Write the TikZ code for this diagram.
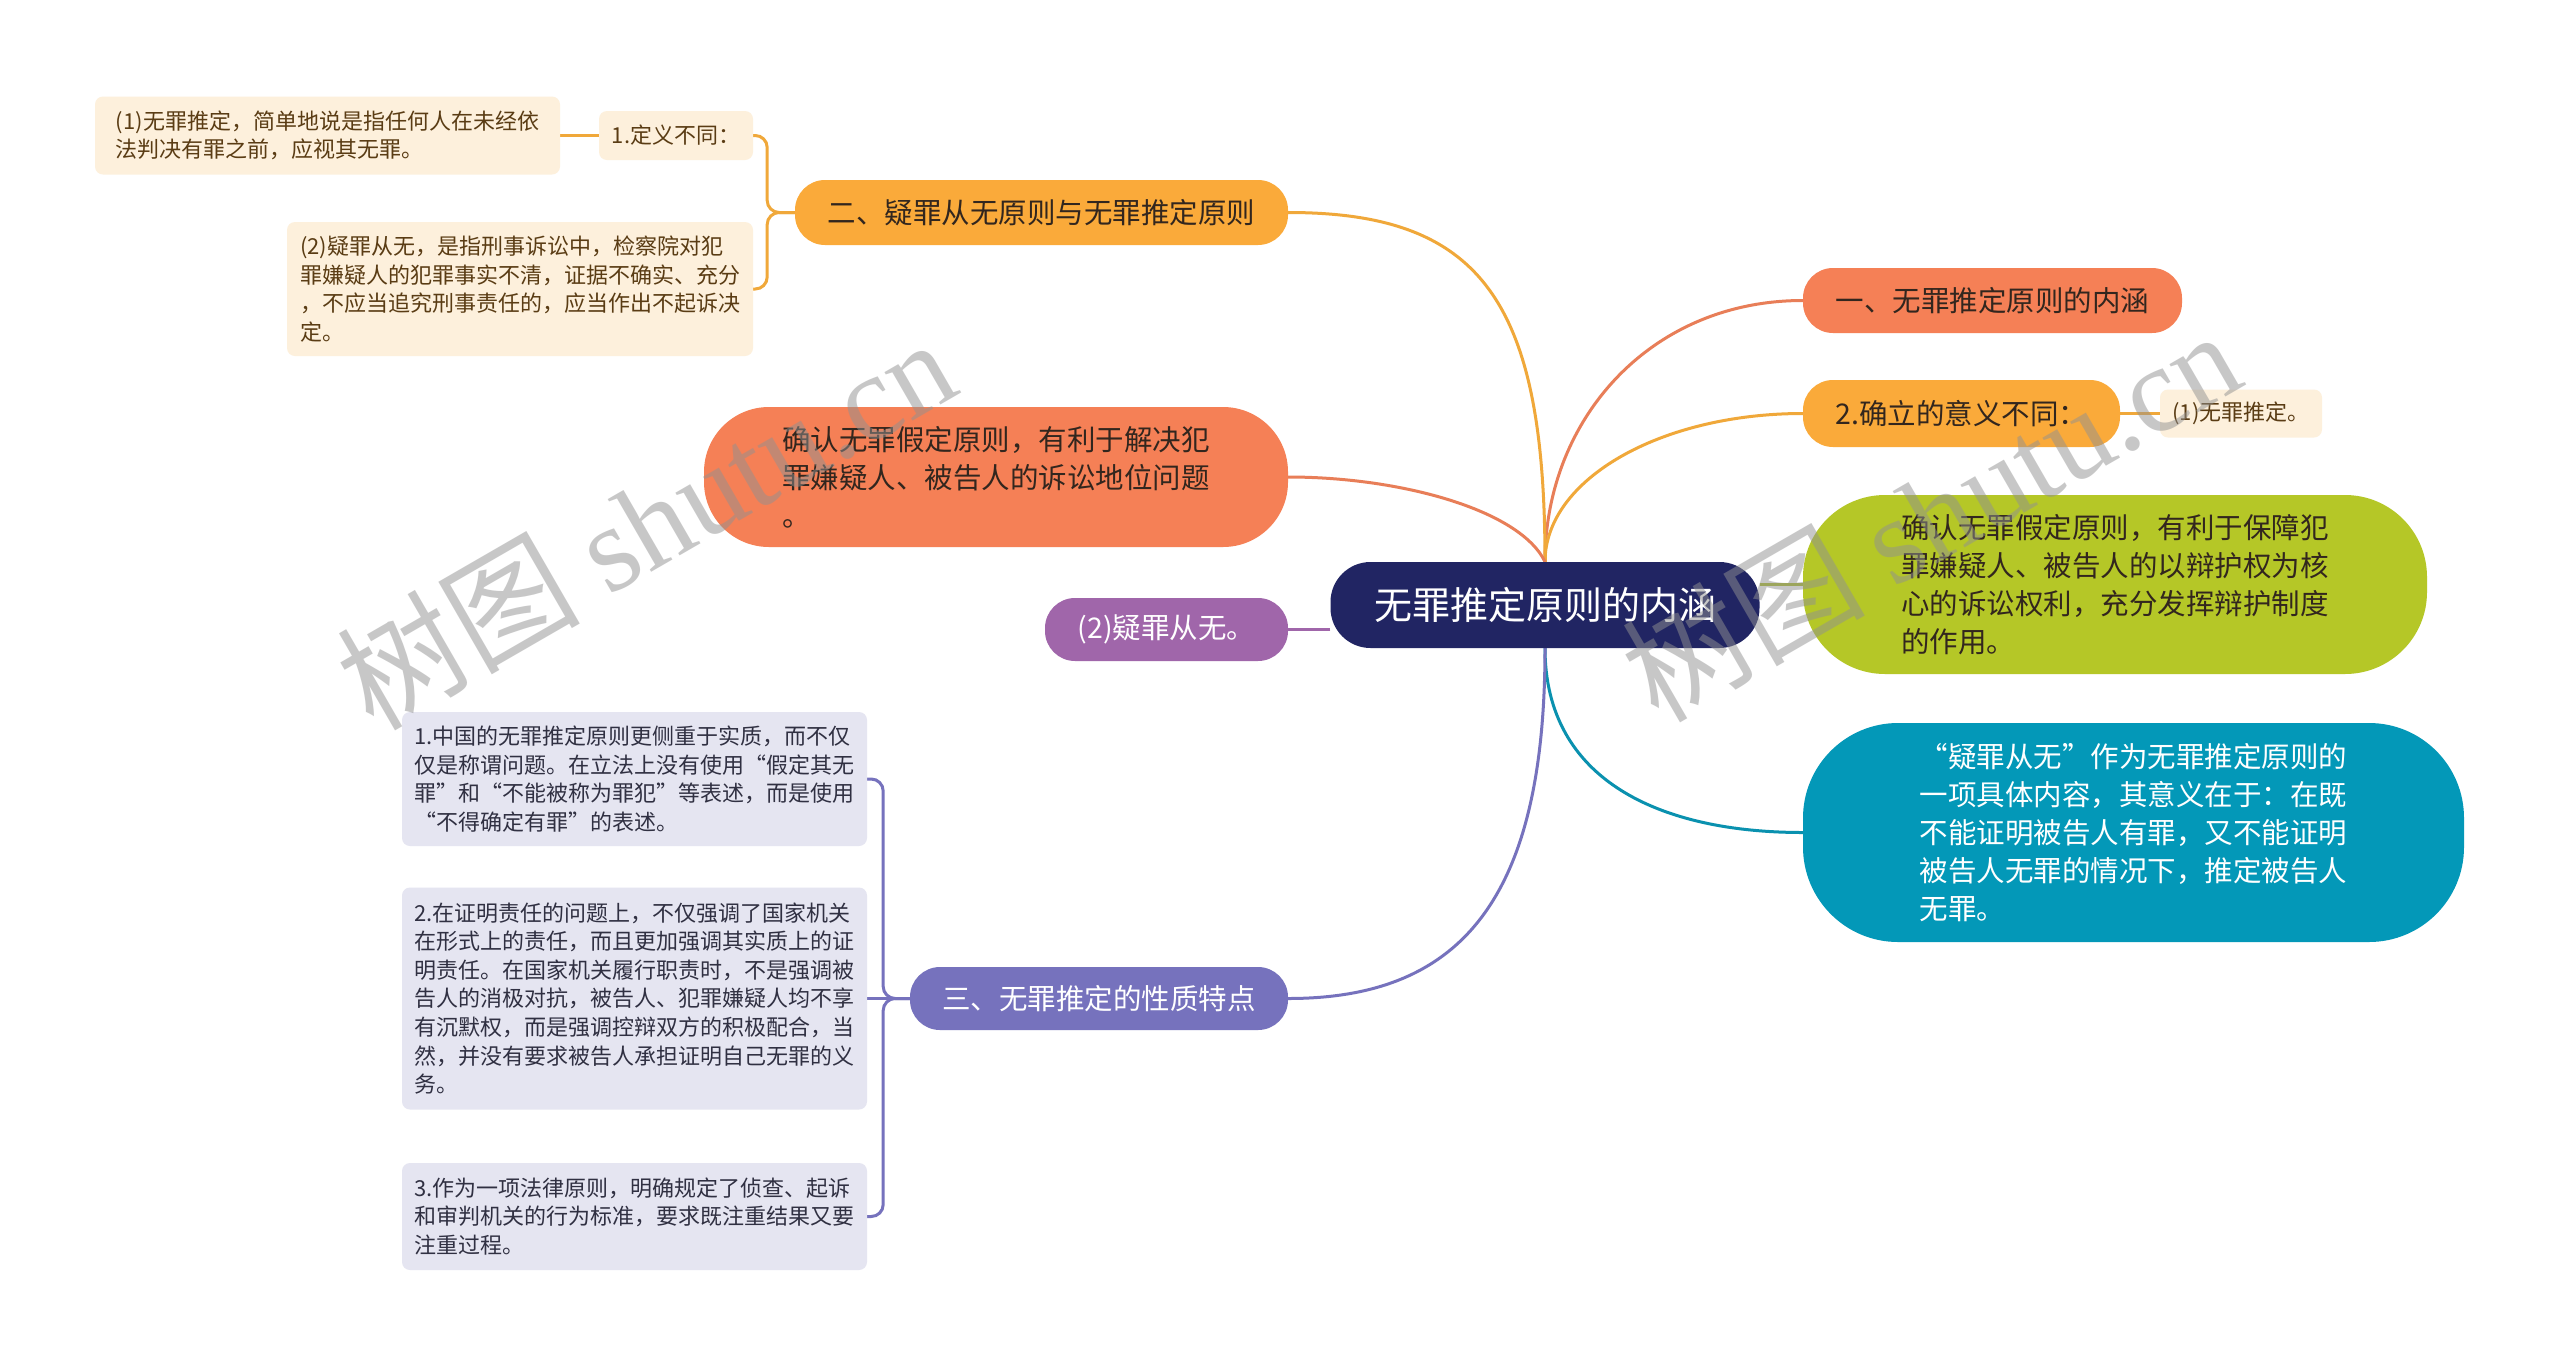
\documentclass[tikz,border=0pt]{standalone}
\usepackage{fontspec}
\setmainfont{Noto Sans CJK SC}
\newfontfamily\wmfont{Liberation Serif}
\usetikzlibrary{calc,backgrounds}

\definecolor{navy}{RGB}{33,37,99}
\definecolor{coral}{RGB}{245,128,86}
\definecolor{amber}{RGB}{250,170,58}
\definecolor{lime}{RGB}{181,199,39}
\definecolor{lagoon}{RGB}{3,152,184}
\definecolor{plum}{RGB}{160,102,170}
\definecolor{iris}{RGB}{118,114,189}
\definecolor{cream}{RGB}{253,240,220}
\definecolor{mist}{RGB}{229,229,241}
\definecolor{inkdark}{RGB}{50,38,30}
\definecolor{inkbrown}{RGB}{90,60,20}
\definecolor{inkgray}{RGB}{48,48,66}
\definecolor{coralline}{RGB}{232,126,88}
\definecolor{amberline}{RGB}{240,168,58}
\definecolor{limeline}{RGB}{168,186,40}
\definecolor{lagoonline}{RGB}{10,145,175}
\definecolor{wmgray}{RGB}{145,145,145}

\tikzset{
  topic/.style={rounded corners=40pt, fill=navy, text=white, minimum width=429pt,
    minimum height=86pt, inner sep=0pt, font=\fontsize{38}{46}\selectfont},
  branch/.style={rounded corners=30pt, inner sep=0pt, text=inkdark,
    font=\fontsize{28.5}{38}\selectfont},
  bubble/.style={inner sep=0pt, align=left, text=inkdark,
    font=\fontsize{28.5}{38}\selectfont},
  memo/.style={rounded corners=8pt, inner sep=0pt, align=left, fill=cream,
    text=inkbrown, font=\fontsize{22}{28.6}\selectfont},
  fact/.style={memo, fill=mist, text=inkgray},
  link/.style={line width=3pt},
  watermark/.style={rotate=30, text=wmgray, text opacity=0.5,
    font=\fontsize{122}{130}\selectfont}
}

\begin{document}
\begin{tikzpicture}[x=1pt, y=-1pt, line cap=round, line join=round]
  % white page
  \begin{pgfonlayer}{background}
    \fill[white] (0,0) rectangle (2560,1366);
  \end{pgfonlayer}

  % central topic
  \node[topic] (root) at (1545,605) {无罪推定原则的内涵};

  % right side
  \node[branch, fill=coral, minimum width=379pt, minimum height=65pt] (meaning) at (1992.5,300.5) {一、无罪推定原则的内涵};
  \node[branch, fill=amber, minimum width=317pt, minimum height=67pt] (purpose) at (1961.5,413.5) {2.确立的意义不同：};
  \node[memo, minimum width=162pt, minimum height=48pt] (purposeA) at (2241,413.5) {(1)无罪推定。};
  \node[bubble, fill=lime, rounded corners=82pt, minimum width=624pt, minimum height=179pt] (defence) at (2115,584.5) {确认无罪假定原则，有利于保障犯\\罪嫌疑人、被告人的以辩护权为核\\心的诉讼权利，充分发挥辩护制度\\的作用。};
  \node[bubble, fill=lagoon, text=white, rounded corners=95pt, minimum width=661pt, minimum height=219pt] (presume) at (2133.5,832.5) {“疑罪从无”作为无罪推定原则的\\一项具体内容，其意义在于：在既\\不能证明被告人有罪，又不能证明\\被告人无罪的情况下，推定被告人\\无罪。};

  % left side
  \node[branch, fill=amber, minimum width=493pt, minimum height=65pt] (principle) at (1041.5,212.5) {二、疑罪从无原则与无罪推定原则};
  \node[memo, minimum width=154pt, minimum height=49pt] (define) at (676,135.5) {1.定义不同：};
  \node[memo, minimum width=465pt, minimum height=78pt] (defineA) at (327.5,135.5) {(1)无罪推定，简单地说是指任何人在未经依\\法判决有罪之前，应视其无罪。};
  \node[memo, minimum width=466pt, minimum height=134pt] (defineB) at (520,289) {(2)疑罪从无，是指刑事诉讼中，检察院对犯\\罪嫌疑人的犯罪事实不清，证据不确实、充分\\，不应当追究刑事责任的，应当作出不起诉决\\定。};
  \node[bubble, fill=coral, rounded corners=65pt, minimum width=584pt, minimum height=140pt] (status) at (996,477) {确认无罪假定原则，有利于解决犯\\罪嫌疑人、被告人的诉讼地位问题\\。};
  \node[branch, fill=plum, text=white, minimum width=243pt, minimum height=63pt] (doubt) at (1166.5,629.5) {(2)疑罪从无。};
  \node[branch, fill=iris, text=white, minimum width=378pt, minimum height=63pt] (traits) at (1099,998.5) {三、无罪推定的性质特点};
  \node[fact, minimum width=465pt, minimum height=134pt] (factA) at (634.5,779) {1.中国的无罪推定原则更侧重于实质，而不仅\\仅是称谓问题。在立法上没有使用“假定其无\\罪”和“不能被称为罪犯”等表述，而是使用\\“不得确定有罪”的表述。};
  \node[fact, minimum width=465pt, minimum height=222pt] (factB) at (634.5,998.5) {2.在证明责任的问题上，不仅强调了国家机关\\在形式上的责任，而且更加强调其实质上的证\\明责任。在国家机关履行职责时，不是强调被\\告人的消极对抗，被告人、犯罪嫌疑人均不享\\有沉默权，而是强调控辩双方的积极配合，当\\然，并没有要求被告人承担证明自己无罪的义\\务。};
  \node[fact, minimum width=465pt, minimum height=107pt] (factC) at (634.5,1216.5) {3.作为一项法律原则，明确规定了侦查、起诉\\和审判机关的行为标准，要求既注重结果又要\\注重过程。};

  % connectors, behind the nodes
  \begin{pgfonlayer}{background}
    \draw[link, coralline] (root.north) .. controls +(0,-142) and +(-153,0) .. (meaning.west);
    \draw[link, amberline] (root.north) .. controls +(0,-82) and +(-143,0) .. (purpose.west);
    \draw[link, amberline] (root.north) .. controls +(0,-262) and +(192,0) .. (principle.east);
    \draw[link, coralline] (root.north) .. controls +(-25,-52) and +(112,0) .. (status.east);
    \draw[link, lagoonline] (root.south) .. controls +(0,132) and +(-143,0) .. (presume.west);
    \draw[link, iris] (root.south) .. controls +(0,252) and +(172,0) .. (traits.east);
    \draw[link, limeline] (root.east |- defence.west) -- (defence.west);
    \draw[link, plum] (root.west |- doubt.east) -- (doubt.east);
    \draw[link, amberline] (purpose.east) -- (purposeA.west);
    % brackets
    \draw[link, amberline, rounded corners=12pt] (principle.west) -| ($(define.east)+(14,0)$) -- (define.east);
    \draw[link, amberline, rounded corners=12pt] (principle.west) -| ($(defineB.east)+(14,0)$) -- (defineB.east);
    \draw[link, amberline] (define.west) -- (defineA.east);
    \draw[link, iris, rounded corners=12pt] (traits.west) -| ($(factA.east)+(16,0)$) -- (factA.east);
    \draw[link, iris] (traits.west) -- (factB.east);
    \draw[link, iris, rounded corners=12pt] (traits.west) -| ($(factC.east)+(16,0)$) -- (factC.east);
  \end{pgfonlayer}

  % watermark
  \node[watermark] (markA) at (645,522) {树图 {\wmfont shutu.cn}};
  \node[watermark] (markB) at (1930,514) {树图 {\wmfont shutu.cn}};
\end{tikzpicture}
\end{document}
